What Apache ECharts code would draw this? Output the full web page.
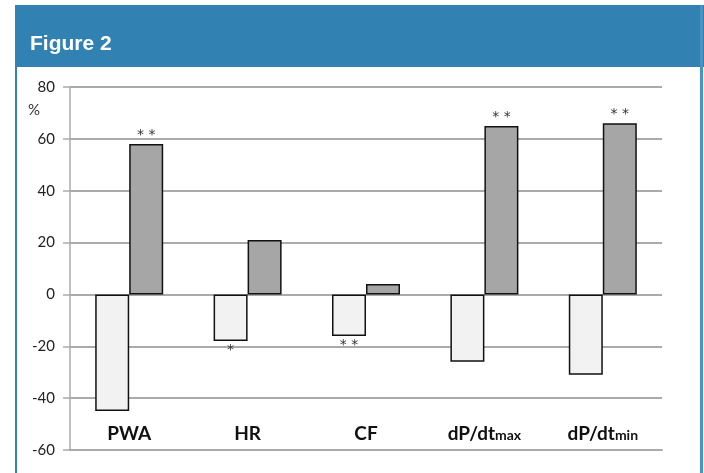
<!DOCTYPE html>
<html>
<head>
<meta charset="utf-8">
<script src="https://cdn.jsdelivr.net/npm/echarts@6/dist/echarts.min.js"></script>
<style>
  html, body { margin: 0; padding: 0; background: #fff; }
  #chart { width: 704px; height: 473px; }
</style>
</head>
<body>
<div id="chart"></div>
<script>
// categories and values (% change)
const categories = ['PWA', 'HR', 'CF', 'dP/dtmax', 'dP/dtmin'];
const lightValues = [-45, -18, -16, -26, -31];
const darkValues = [58, 21, 4, 65, 66];
// significance marks
const lightStars = ['', '*', '**', '', ''];
const darkStars = ['**', '', '', '**', '**'];
const yTicks = [-60, -40, -20, 0, 20, 40, 60, 80];

const chart = echarts.init(document.getElementById('chart'));

function withStars(values, stars, pos) {
    return values.map((v, i) => ({
        value: v,
        label: {
            show: stars[i] !== '',
            position: pos,
            formatter: stars[i].split('').join(' '),
            distance: 2,
            fontSize: 14,
            color: '#333',
            fontFamily: 'DejaVu Sans'
        }
    }));
}

const option = {
    animation: false,
    graphic: [
        // blue header with title
        { type: 'rect', left: 15, top: 5, shape: { width: 689, height: 62 }, style: { fill: '#3181b3' } },
        { type: 'text', left: 30, top: 34, style: { text: 'Figure 2', fill: '#fff', font: 'bold 21px "Liberation Sans", Arial' } },
        // frame borders
        { type: 'rect', left: 15, top: 5, shape: { width: 2, height: 468 }, style: { fill: '#3181b3' } },
        { type: 'rect', left: 700, top: 5, shape: { width: 3, height: 468 }, style: { fill: '#4a92c2' } },
        { type: 'text', left: 28, top: 103, style: { text: '%', fill: '#333', font: '15px Lato' } }
    ],
    grid: { left: 70, right: 42, top: 87, bottom: 23 },
    xAxis: {
        type: 'category',
        data: categories,
        position: 'bottom',
        axisLine: { onZero: false, show: true, lineStyle: { color: '#aaa', width: 2 } },
        axisTick: { show: false },
        axisLabel: {
            inside: true,
            margin: 7,
            interval: 0,
            formatter: (v) => v.startsWith('dP/dt') ? '{a|dP/dt}{b|' + v.slice(5) + '}' : '{a|' + v + '}',
            rich: {
                a: { fontSize: 19, fontWeight: 'bold', fontFamily: 'Lato', color: '#111' },
                b: { fontSize: 14, fontWeight: 'bold', fontFamily: 'Lato', color: '#111', verticalAlign: 'bottom', padding: [0, 0, 1, 0] }
            }
        }
    },
    yAxis: {
        type: 'value',
        min: yTicks[0],
        max: yTicks[yTicks.length - 1],
        interval: 20,
        axisLine: { show: true, lineStyle: { color: '#aaa', width: 1.5 } },
        axisTick: { show: true, length: 7, lineStyle: { color: '#aaa', width: 1.5 } },
        axisLabel: { margin: 15, fontSize: 15, color: '#222', fontFamily: 'Lato' },
        splitLine: { lineStyle: { color: '#aaa', width: 2 } }
    },
    series: [
        {
            type: 'bar',
            data: withStars(lightValues, lightStars, 'bottom'),
            barWidth: 34,
            barGap: '0%',
            itemStyle: { color: '#f2f2f2', borderColor: '#111', borderWidth: 1.5 }
        },
        {
            type: 'bar',
            data: withStars(darkValues, darkStars, 'top'),
            barWidth: 34,
            barGap: '0%',
            itemStyle: { color: '#a6a6a6', borderColor: '#111', borderWidth: 1.5 }
        }
    ]
};

chart.setOption(option);
</script>
</body>
</html>
